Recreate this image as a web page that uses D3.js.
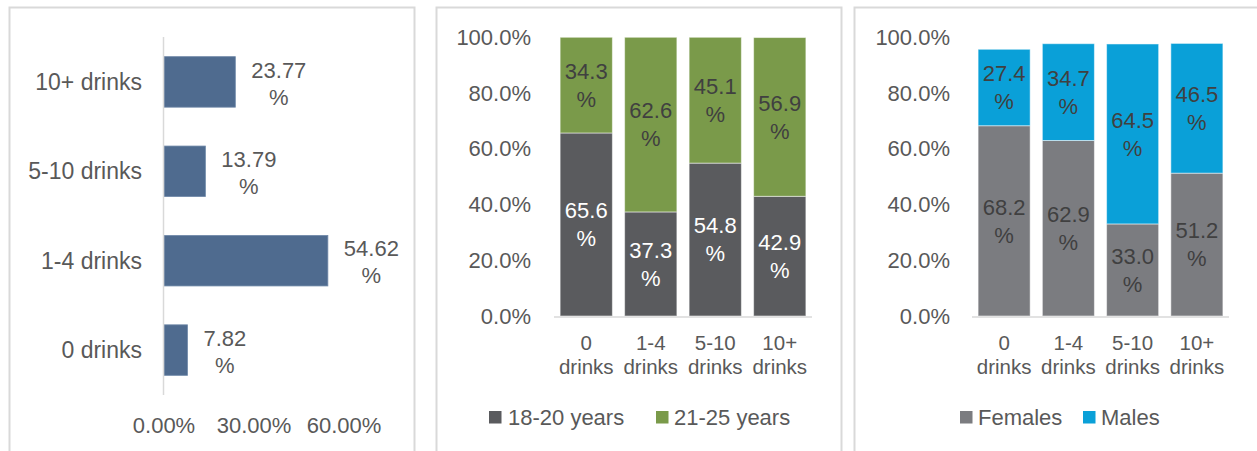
<!DOCTYPE html>
<html>
<head>
<meta charset="utf-8">
<script src="https://cdn.jsdelivr.net/npm/d3@7"></script>
<style>
  body { margin: 0; background: #ffffff; }
  svg { display: block; }
  text { font-family: "Liberation Sans", Arial, sans-serif; }
</style>
</head>
<body>
<svg id="chart" width="1257" height="451"></svg>
<script>
// categories and values
let drinkCats = ["0 drinks", "1-4 drinks", "5-10 drinks", "10+ drinks"];
let drinkLines = [["0", "drinks"], ["1-4", "drinks"], ["5-10", "drinks"], ["10+", "drinks"]];
let overallPct = [7.82, 54.62, 13.79, 23.77];
let overallTicks = [0, 30, 60];

let ageNames = ["18-20 years", "21-25 years"];
let age1820 = [65.6, 37.3, 54.8, 42.9];
let age2125 = [34.3, 62.6, 45.1, 56.9];

let sexNames = ["Females", "Males"];
let females = [68.2, 62.9, 33.0, 51.2];
let males = [27.4, 34.7, 64.5, 46.5];

let pctTicks = [0, 20, 40, 60, 80, 100];

// shared look
let attrs = {
  fontSize: 22,
  catFontSize: 20.5, // x labels under the columns
  textColor: "#595959",
  borderColor: "#d9d9d9",
  axisColor: "#d9d9d9",
  barBlue: "#4f6b8f",
  ageColors: ["#5a5b5e", "#7a9a4a"],
  ageLabel: ["#ffffff", "#404040"],
  sexColors: ["#7b7c80", "#0aa0d8"],
  sexLabel: ["#404040", "#404040"],
};

let svg = d3.select("#chart");

// panel frames
[[9, 405], [436, 405], [854, 420]].forEach(function (p) {
  svg.append("rect")
    .attr("x", p[0] + 0.5).attr("y", 7.5)
    .attr("width", p[1]).attr("height", 460)
    .attr("fill", "none")
    .attr("stroke", attrs.borderColor)
    .attr("stroke-width", 2);
});

// ---------- panel 1: horizontal bars ----------
horizontalBars();

function horizontalBars() {
  let x = d3.scaleLinear().domain([0, 60]).range([164, 344]);
  let y = d3.scaleBand()
    .domain(drinkCats.slice().reverse())
    .range([37, 395])
    .paddingInner(0.435)
    .paddingOuter(0.22);

  let g = svg.append("g");

  g.selectAll("rect.bar")
    .data(drinkCats)
    .enter()
    .append("rect")
    .attr("class", "bar")
    .attr("x", x(0))
    .attr("y", (d) => y(d))
    .attr("width", (d, i) => x(overallPct[i]) - x(0))
    .attr("height", y.bandwidth())
    .attr("fill", attrs.barBlue)
    .attr("stroke", "#6f88a8")
    .attr("stroke-width", 0.8);

  // axis line
  g.append("line")
    .attr("x1", x(0) - 0.5).attr("x2", x(0) - 0.5)
    .attr("y1", 37).attr("y2", 395)
    .attr("stroke", attrs.axisColor)
    .attr("stroke-width", 1.5);

  // category labels
  g.selectAll("text.cat")
    .data(drinkCats)
    .enter()
    .append("text")
    .attr("class", "cat")
    .attr("x", 142)
    .attr("y", (d) => y(d) + y.bandwidth() / 2)
    .attr("dy", "0.35em")
    .attr("text-anchor", "end")
    .attr("font-size", 23)
    .attr("fill", attrs.textColor)
    .text((d) => d);

  // tick labels
  g.selectAll("text.tick")
    .data(overallTicks)
    .enter()
    .append("text")
    .attr("class", "tick")
    .attr("x", (d) => x(d))
    .attr("y", 425)
    .attr("dy", "0.35em")
    .attr("text-anchor", "middle")
    .attr("font-size", attrs.fontSize)
    .attr("fill", attrs.textColor)
    .text((d) => d.toFixed(2) + "%");

  // value labels, number on one line and % below
  drinkCats.forEach(function (c, i) {
    let num = g.append("text")
      .attr("x", x(overallPct[i]) + 16)
      .attr("y", y(c) + y.bandwidth() / 2 - 12)
      .attr("dy", "0.35em")
      .attr("font-size", attrs.fontSize)
      .attr("fill", attrs.textColor)
      .text(overallPct[i].toFixed(2));
    let w = num.node().getComputedTextLength();
    g.append("text")
      .attr("x", x(overallPct[i]) + 16 + w / 2)
      .attr("y", y(c) + y.bandwidth() / 2 + 15)
      .attr("dy", "0.35em")
      .attr("text-anchor", "middle")
      .attr("font-size", attrs.fontSize)
      .attr("fill", attrs.textColor)
      .text("%");
  });
}

// ---------- panels 2 and 3: stacked columns ----------
stackedColumns(531, 554, 812, [age1820, age2125], ageNames, attrs.ageColors, attrs.ageLabel,
  [[489, 508], [656, 674]]);
stackedColumns(950, 972, 1229, [females, males], sexNames, attrs.sexColors, attrs.sexLabel,
  [[960, 978], [1083, 1101]]);

function stackedColumns(tickRight, left, right, series, names, colors, labelColors, legendPos) {
  let g = svg.append("g");
  let y = d3.scaleLinear().domain([0, 100]).range([316, 37]);
  let x = d3.scaleBand()
    .domain(drinkCats)
    .range([left, right])
    .paddingInner(0.19)
    .paddingOuter(0.095);

  let rows = drinkCats.map(function (c, i) {
    return { cat: c, a: series[0][i], b: series[1][i] };
  });
  let stacked = d3.stack().keys(["a", "b"])(rows);

  // y tick labels
  g.selectAll("text.ytick")
    .data(pctTicks)
    .enter()
    .append("text")
    .attr("class", "ytick")
    .attr("x", tickRight)
    .attr("y", (d) => y(d))
    .attr("dy", "0.35em")
    .attr("text-anchor", "end")
    .attr("font-size", attrs.fontSize)
    .attr("fill", attrs.textColor)
    .text((d) => d.toFixed(1) + "%");

  stacked.forEach(function (layer, k) {
    g.selectAll("rect.s" + k)
      .data(layer)
      .enter()
      .append("rect")
      .attr("class", "s" + k)
      .attr("x", (d) => x(d.data.cat))
      .attr("y", (d) => y(d[1]))
      .attr("width", x.bandwidth())
      .attr("height", (d) => y(d[0]) - y(d[1]))
      .attr("fill", colors[k])
      .attr("stroke", "#ffffff")
      .attr("stroke-opacity", 0.5)
      .attr("stroke-width", 1);

    // segment labels
    layer.forEach(function (d, i) {
      let cx = x(d.data.cat) + x.bandwidth() / 2;
      let cy = (y(d[0]) + y(d[1])) / 2;
      let v = series[k][i];
      g.append("text")
        .attr("x", cx)
        .attr("y", cy - 14)
        .attr("dy", "0.35em")
        .attr("text-anchor", "middle")
        .attr("font-size", attrs.fontSize)
        .attr("fill", labelColors[k])
        .text(v.toFixed(1));
      g.append("text")
        .attr("x", cx)
        .attr("y", cy + 14)
        .attr("dy", "0.35em")
        .attr("text-anchor", "middle")
        .attr("font-size", attrs.fontSize)
        .attr("fill", labelColors[k])
        .text("%");
    });
  });

  // baseline
  g.append("line")
    .attr("x1", left).attr("x2", right)
    .attr("y1", y(0) + 1).attr("y2", y(0) + 1)
    .attr("stroke", attrs.axisColor)
    .attr("stroke-width", 1.5);

  // category labels on two lines
  drinkCats.forEach(function (c, i) {
    let t = g.append("text")
      .attr("text-anchor", "middle")
      .attr("font-size", attrs.catFontSize)
      .attr("fill", attrs.textColor);
    drinkLines[i].forEach(function (line, j) {
      t.append("tspan")
        .attr("x", x(c) + x.bandwidth() / 2)
        .attr("y", 343 + j * 24)
        .attr("dy", "0.35em")
        .text(line);
    });
  });

  // legend
  names.forEach(function (n, k) {
    g.append("rect")
      .attr("x", legendPos[k][0])
      .attr("y", 411)
      .attr("width", 12.5)
      .attr("height", 12.5)
      .attr("fill", colors[k]);
    g.append("text")
      .attr("x", legendPos[k][1])
      .attr("y", 417)
      .attr("dy", "0.35em")
      .attr("font-size", attrs.fontSize)
      .attr("fill", attrs.textColor)
      .text(n);
  });
}
</script>
</body>
</html>
